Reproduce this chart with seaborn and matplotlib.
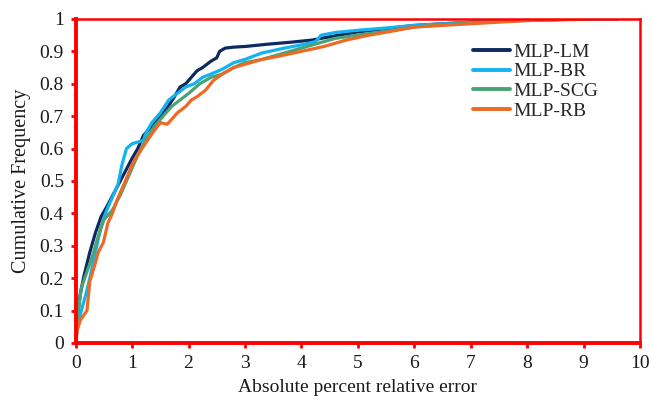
import matplotlib
matplotlib.use("Agg")
import matplotlib.pyplot as plt
import seaborn as sns
import pandas as pd

LM_x = [0, 0.03, 0.08, 0.15, 0.25, 0.35, 0.45, 0.55, 0.7, 0.85, 1.0, 1.1, 1.2, 1.3, 1.45, 1.6, 1.75, 1.85, 1.95, 2.05, 2.15, 2.25, 2.4, 2.5, 2.55, 2.65, 2.8, 3.0, 3.4, 3.8, 4.2, 4.5, 5.0, 5.5, 6.0, 6.5, 7.0, 7.5, 8.0, 8.5, 9.0]
LM_y = [0, 0.08, 0.15, 0.21, 0.28, 0.34, 0.39, 0.42, 0.47, 0.52, 0.57, 0.6, 0.64, 0.66, 0.69, 0.72, 0.76, 0.79, 0.8, 0.82, 0.84, 0.85, 0.87, 0.88, 0.9, 0.91, 0.913, 0.915, 0.922, 0.928, 0.935, 0.945, 0.96, 0.97, 0.98, 0.985, 0.99, 0.993, 0.996, 0.998, 1.0]

BR_x = [0, 0.04, 0.1, 0.18, 0.25, 0.35, 0.45, 0.55, 0.65, 0.75, 0.82, 0.9, 1.0, 1.1, 1.2, 1.25, 1.35, 1.5, 1.65, 1.8, 1.95, 2.1, 2.25, 2.4, 2.6, 2.8, 3.0, 3.3, 3.7, 4.0, 4.25, 4.35, 4.6, 5.0, 5.5, 6.0, 6.5, 7.0, 7.5, 8.0, 8.5, 9.0, 9.6]
BR_y = [0, 0.06, 0.1, 0.15, 0.2, 0.28, 0.36, 0.41, 0.45, 0.49, 0.55, 0.6, 0.615, 0.62, 0.625, 0.65, 0.68, 0.71, 0.75, 0.77, 0.79, 0.8, 0.82, 0.83, 0.845, 0.865, 0.875, 0.895, 0.91, 0.92, 0.93, 0.95, 0.958, 0.965, 0.972, 0.98, 0.985, 0.99, 0.993, 0.995, 0.997, 0.999, 1.0]

SCG_x = [0, 0.03, 0.1, 0.2, 0.3, 0.4, 0.5, 0.65, 0.8, 0.95, 1.1, 1.25, 1.4, 1.55, 1.7, 1.85, 2.0, 2.2, 2.4, 2.6, 2.8, 3.0, 3.3, 3.6, 4.0, 4.3, 4.6, 5.0, 5.5, 6.0, 6.5, 7.0, 7.5, 8.0, 8.5, 9.0, 9.6]
SCG_y = [0, 0.08, 0.17, 0.22, 0.27, 0.33, 0.38, 0.41, 0.46, 0.52, 0.58, 0.63, 0.67, 0.7, 0.73, 0.75, 0.77, 0.8, 0.82, 0.83, 0.85, 0.865, 0.875, 0.89, 0.91, 0.925, 0.94, 0.95, 0.962, 0.975, 0.982, 0.988, 0.993, 0.996, 0.998, 0.999, 1.0]

RB_x = [0, 0.03, 0.08, 0.2, 0.25, 0.32, 0.4, 0.49, 0.57, 0.65, 0.73, 0.88, 1.0, 1.1, 1.25, 1.37, 1.5, 1.62, 1.7, 1.8, 1.95, 2.05, 2.15, 2.3, 2.44, 2.6, 2.8, 3.0, 3.3, 3.6, 4.0, 4.4, 4.8, 5.2, 5.6, 6.0, 6.5, 7.0, 7.5, 8.0, 8.5, 9.0]
RB_y = [0, 0.04, 0.07, 0.1, 0.19, 0.23, 0.28, 0.31, 0.37, 0.4, 0.44, 0.5, 0.55, 0.58, 0.62, 0.65, 0.68, 0.675, 0.69, 0.71, 0.73, 0.75, 0.76, 0.78, 0.81, 0.83, 0.85, 0.86, 0.875, 0.885, 0.9, 0.915, 0.935, 0.95, 0.962, 0.975, 0.98, 0.985, 0.99, 0.995, 0.998, 1.0]

series_names = ["MLP-LM", "MLP-BR", "MLP-SCG", "MLP-RB"]
colors = ["#0c2a5e", "#13b2f0", "#4aa276", "#ee6a24"]
x_ticks = list(range(0, 11))
y_ticks = [0, 0.1, 0.2, 0.3, 0.4, 0.5, 0.6, 0.7, 0.8, 0.9, 1.0]
y_tick_labels = ["0", "0.1", "0.2", "0.3", "0.4", "0.5", "0.6", "0.7", "0.8", "0.9", "1"]

frames = []
for name, xs, ys in zip(series_names, [LM_x, BR_x, SCG_x, RB_x], [LM_y, BR_y, SCG_y, RB_y]):
    frames.append(pd.DataFrame({"x": xs, "y": ys, "model": name}))
df = pd.concat(frames, ignore_index=True)

sns.set_style("white")
plt.rcParams["font.family"] = ["Liberation Serif", "DejaVu Serif"]

fig = plt.figure(figsize=(6.51, 4.03), dpi=100)
ax = fig.add_axes([0.1163, 0.149, 0.8667, 0.804])

sns.lineplot(data=df, x="x", y="y", hue="model", hue_order=series_names,
             palette=dict(zip(series_names, colors)), estimator=None, sort=False,
             linewidth=2.3, ax=ax)

ax.set_xlim(0, 10)
ax.set_ylim(0, 1)
ax.set_xticks(x_ticks)
ax.set_xticklabels([str(t) for t in x_ticks])
ax.set_yticks(y_ticks)
ax.set_yticklabels(y_tick_labels)
ax.set_xlabel("Absolute percent relative error", fontsize=14, color="#1a1a1a", labelpad=5)
ax.set_ylabel("Cumulative Frequency", fontsize=14.5, color="#1a1a1a", labelpad=6)

for side in ["left", "bottom"]:
    ax.spines[side].set_color("red")
    ax.spines[side].set_linewidth(2.8)
for side in ["top", "right"]:
    ax.spines[side].set_color("red")
    ax.spines[side].set_linewidth(1.8)
ax.tick_params(axis="both", which="major", direction="out", length=3.5, width=2,
               color="red", labelsize=14, labelcolor="#1a1a1a", pad=5)
ax.tick_params(left=True, bottom=True)

leg = ax.legend(loc="upper left", bbox_to_anchor=(0.705, 0.925), frameon=False,
                fontsize=14, handlelength=1.9, handletextpad=0.15, labelspacing=0.1,
                borderpad=0, borderaxespad=0)
for line in leg.get_lines():
    line.set_linewidth(2.8)

fig.savefig("out.png", dpi=100)
